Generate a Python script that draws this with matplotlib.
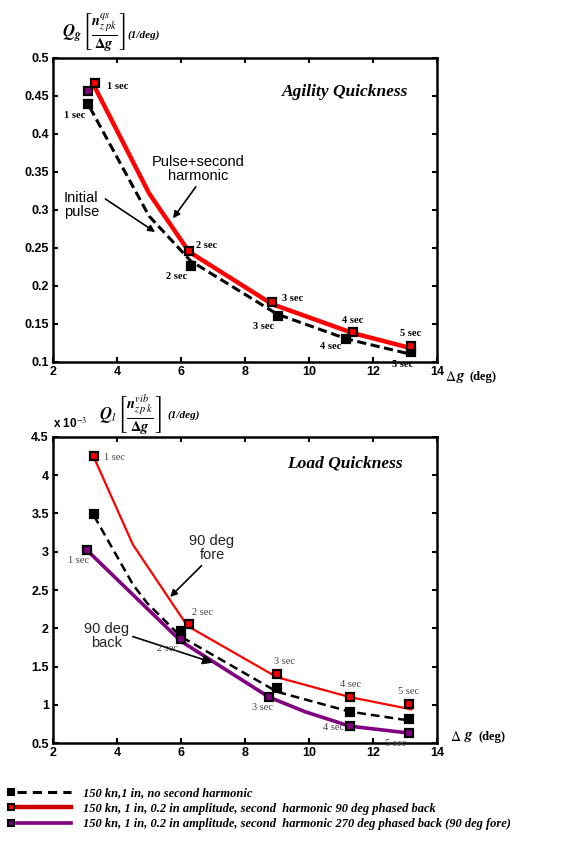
import numpy as np
import matplotlib
matplotlib.use('Agg')
import matplotlib.pyplot as plt
from matplotlib.lines import Line2D
from matplotlib.legend_handler import HandlerBase
from matplotlib.ticker import FuncFormatter

plt.rcParams['mathtext.fontset'] = 'stix'

# agility quickness (top)
ag_x_red = [3.3, 5.0, 6.25, 8.85, 11.37, 13.2]
ag_y_red = [0.462, 0.322, 0.245, 0.176, 0.138, 0.118]
ag_mx_red = [3.3, 6.25, 8.85, 11.37, 13.19]
ag_my_red = [0.467, 0.246, 0.179, 0.140, 0.121]

ag_x_blk = [3.15, 5.0, 6.3, 9.0, 11.2, 13.2]
ag_y_blk = [0.435, 0.292, 0.233, 0.163, 0.130, 0.110]
ag_mx_blk = [3.1, 6.3, 9.03, 11.16, 13.2]
ag_my_blk = [0.440, 0.226, 0.160, 0.130, 0.113]

ag_mx_pur = [3.1]
ag_my_pur = [0.457]

# load quickness (bottom), units of 1e-3
ld_x_red = [3.28, 4.5, 6.2, 9.0, 11.28, 13.2]
ld_y_red = [4.23, 3.09, 2.03, 1.36, 1.10, 0.94]
ld_mx_red = [3.28, 6.25, 9.0, 11.28, 13.13]
ld_my_red = [4.25, 2.06, 1.40, 1.10, 1.01]

ld_x_blk = [3.28, 4.5, 4.94, 6.0, 9.0, 11.28, 13.2]
ld_y_blk = [3.47, 2.57, 2.33, 1.89, 1.17, 0.91, 0.79]
ld_mx_blk = [3.28, 6.0, 9.0, 11.28, 13.13]
ld_my_blk = [3.49, 1.96, 1.22, 0.91, 0.81]

ld_x_pur = [3.06, 6.0, 8.75, 9.87, 11.28, 13.13]
ld_y_pur = [3.02, 1.83, 1.10, 0.91, 0.72, 0.63]
ld_mx_pur = [3.06, 6.0, 8.75, 11.28, 13.13]
ld_my_pur = [3.02, 1.86, 1.10, 0.72, 0.63]

legend_labels = ['150 kn,1 in, no second harmonic',
                 '150 kn, 1 in, 0.2 in amplitude, second  harmonic 90 deg phased back',
                 '150 kn, 1 in, 0.2 in amplitude, second  harmonic 270 deg phased back (90 deg fore)']

RED = '#ff0000'
PUR = '#800080'
SANS = 'Liberation Sans'
SERIF = 'Liberation Serif'


class MarkerThenLine(HandlerBase):
    # square marker at the far left, line sample to its right
    def create_artists(self, legend, orig, xd, yd, w, h, fontsize, trans):
        y = h / 2 - yd
        ln = Line2D([-xd + 0.1 * w, -xd + w], [y, y])
        ln.update_from(orig)
        ln.set_marker('')
        ln.set_markevery(None)
        mk = Line2D([-xd], [y])
        mk.update_from(orig)
        mk.set_linestyle('none')
        mk.set_markevery(None)
        ln.set_transform(trans)
        mk.set_transform(trans)
        return [ln, mk]


def style_axes(ax, ylim, yfmt):
    ax.set_xlim(2, 14)
    ax.set_ylim(*ylim)
    ax.set_xticks(np.arange(2, 15, 2))
    for s in ax.spines.values():
        s.set_linewidth(1.8)
    ax.tick_params(direction='in', top=True, right=True, length=3.5, width=1.5,
                   labelsize=9, pad=3)
    for lab in ax.get_xticklabels() + ax.get_yticklabels():
        lab.set_fontfamily(SANS)
        lab.set_fontweight('bold')
    ax.yaxis.set_major_formatter(FuncFormatter(yfmt))
    ax.xaxis.set_major_formatter(FuncFormatter(lambda v, p: '%g' % v))


def sq(ax, x, y, fc):
    ax.plot(x, y, ls='none', marker='s', ms=5.5, mfc=fc, mec='k', mew=1.6, zorder=5)


fig = plt.figure(figsize=(5.84, 8.41), dpi=100)

# ---- Agility quickness ----
ax1 = fig.add_axes([0.0908, 0.5696, 0.6575, 0.3615])
ax1.plot(ag_x_blk, ag_y_blk, 'k--', lw=2.2, dashes=(3, 1.5))
ax1.plot(ag_x_red, ag_y_red, color=RED, lw=3.2)
sq(ax1, ag_mx_blk, ag_my_blk, 'k')
sq(ax1, ag_mx_red, ag_my_red, RED)
sq(ax1, ag_mx_pur, ag_my_pur, PUR)
style_axes(ax1, (0.1, 0.5), lambda v, p: '%g' % round(v, 3))
ax1.set_yticks(np.arange(0.1, 0.51, 0.05))

ax1.text(13.1, 0.455, 'Agility Quickness', ha='right', va='center', family=SERIF,
         style='italic', weight='bold', fontsize=12.5)
ax1.annotate('Pulse+second\nharmonic', xy=(5.75, 0.289), xytext=(6.55, 0.354),
             ha='center', va='center', family=SANS, fontsize=10.5, linespacing=1.0,
             arrowprops=dict(arrowstyle='-|>', color='k', lw=1.2,
                             shrinkA=1, shrinkB=0, mutation_scale=10,
                             relpos=(0.5, 0.0)))
ax1.annotate('Initial\npulse', xy=(5.19, 0.271), xytext=(2.34, 0.307),
             ha='left', va='center', family=SANS, fontsize=10.5, linespacing=1.0,
             arrowprops=dict(arrowstyle='-|>', color='k', lw=1.2,
                             shrinkA=3, shrinkB=0, mutation_scale=10,
                             relpos=(1.0, 0.85)))

sec_top = [(3.69, 0.463), (2.34, 0.424), (6.47, 0.253), (5.53, 0.213),
           (9.16, 0.184), (8.25, 0.147), (11.03, 0.155), (10.34, 0.120),
           (12.84, 0.137), (12.59, 0.097)]
for i, (x, y) in enumerate(sec_top):
    ax1.text(x, y, '%d sec' % (i // 2 + 1), ha='left', va='center', family=SERIF,
             fontsize=7.5, weight='bold', clip_on=False, zorder=6)
ax1.text(14.25, 0.080, r'$\Delta$', ha='left', va='center', fontsize=10, clip_on=False)
ax1.text(14.6, 0.080, r'$\boldsymbol{g}$', ha='left', va='center', fontsize=11, clip_on=False)
ax1.text(15.0, 0.080, '(deg)', ha='left', va='center', family=SERIF, weight='bold',
         fontsize=9, clip_on=False)

# y-axis quantity written above the axes
fig.text(0.106, 0.961, r'$\boldsymbol{Q}_{\boldsymbol{g}}$', ha='left', va='center', fontsize=12)
fig.text(0.141, 0.961, r'$\left[\frac{\boldsymbol{n}^{qs}_{z\;pk}}{\boldsymbol{\Delta g}}\right]$',
         ha='left', va='center', fontsize=15)
fig.text(0.219, 0.958, '(1/deg)', ha='left', va='center', family=SERIF, style='italic',
         weight='bold', fontsize=8)

# ---- Load quickness ----
ax2 = fig.add_axes([0.0908, 0.1165, 0.6575, 0.3639])
ax2.plot(ld_x_pur, ld_y_pur, color=PUR, lw=2.6)
ax2.plot(ld_x_blk, ld_y_blk, 'k--', lw=1.8, dashes=(3.5, 2))
ax2.plot(ld_x_red, ld_y_red, color=RED, lw=1.6)
sq(ax2, ld_mx_blk, ld_my_blk, 'k')
sq(ax2, ld_mx_red, ld_my_red, RED)
sq(ax2, ld_mx_pur, ld_my_pur, PUR)
style_axes(ax2, (0.5, 4.5), lambda v, p: '%g' % v)
ax2.set_yticks(np.arange(0.5, 4.51, 0.5))
ax2.text(2.0, 4.58, r'x 10$^{-3}$', ha='left', va='bottom', family=SANS, weight='bold',
         fontsize=8.5, clip_on=False)

ax2.text(12.94, 4.15, 'Load Quickness', ha='right', va='center', family=SERIF,
         style='italic', weight='bold', fontsize=12.5)
ax2.annotate('90 deg\nfore', xy=(5.66, 2.41), xytext=(6.97, 3.05),
             ha='center', va='center', family=SANS, fontsize=10.5, linespacing=1.0,
             color='#222222',
             arrowprops=dict(arrowstyle='-|>', color='k', lw=1.2,
                             shrinkA=1, shrinkB=0, mutation_scale=10,
                             relpos=(0.35, 0.0)))
ax2.annotate('90 deg\nback', xy=(7.0, 1.55), xytext=(3.66, 1.90),
             ha='center', va='center', family=SANS, fontsize=10.5, linespacing=1.0,
             color='#222222',
             arrowprops=dict(arrowstyle='-|>', color='k', lw=1.2,
                             shrinkA=1, shrinkB=0, mutation_scale=15,
                             relpos=(0.95, 0.55)))

sec_bot = [(3.59, 4.23), (2.47, 2.88), (6.34, 2.21), (5.25, 1.73),
           (8.9, 1.56), (8.22, 0.97), (10.97, 1.27), (10.44, 0.70),
           (12.78, 1.17), (12.37, 0.49)]
for i, (x, y) in enumerate(sec_bot):
    ax2.text(x, y, '%d sec' % (i // 2 + 1), ha='left', va='center', family=SERIF,
             fontsize=7.5, color='#444444', clip_on=False, zorder=6)
ax2.text(14.4, 0.58, r'$\Delta$', ha='left', va='center', fontsize=10, clip_on=False)
ax2.text(14.85, 0.58, r'$\boldsymbol{g}$', ha='left', va='center', fontsize=11, clip_on=False)
ax2.text(15.3, 0.58, '(deg)', ha='left', va='center', family=SERIF, weight='bold',
         fontsize=9, clip_on=False)

fig.text(0.169, 0.5065, r'$\boldsymbol{Q}_l$', ha='left', va='center', fontsize=12)
fig.text(0.2, 0.5065, r'$\left[\frac{\boldsymbol{n}^{vib}_{z\,p\,k}}{\boldsymbol{\Delta g}}\right]$',
         ha='left', va='center', fontsize=15)
fig.text(0.286, 0.5065, '(1/deg)', ha='left', va='center', family=SERIF, style='italic',
         weight='bold', fontsize=8)

# ---- legend ----
handles = [
    Line2D([], [], color='k', ls='--', lw=2.2, dashes=(3, 2),
           marker='s', ms=5, mfc='k', mec='k', mew=1.5),
    Line2D([], [], color='#cc0000', lw=3.2,
           marker='s', ms=5, mfc=RED, mec='k', mew=1.5),
    Line2D([], [], color=PUR, lw=2.6,
           marker='s', ms=5, mfc=PUR, mec='k', mew=1.5),
]
leg = fig.legend(handles, legend_labels, loc='upper left', bbox_to_anchor=(0.018, 0.064),
                 frameon=False, handlelength=4.8, handletextpad=1.0,
                 labelspacing=0.28, borderpad=0, borderaxespad=0,
                 handler_map={Line2D: MarkerThenLine()},
                 prop=dict(family=SERIF, style='italic', weight='bold', size=9))

fig.savefig('out.png', dpi=100)
